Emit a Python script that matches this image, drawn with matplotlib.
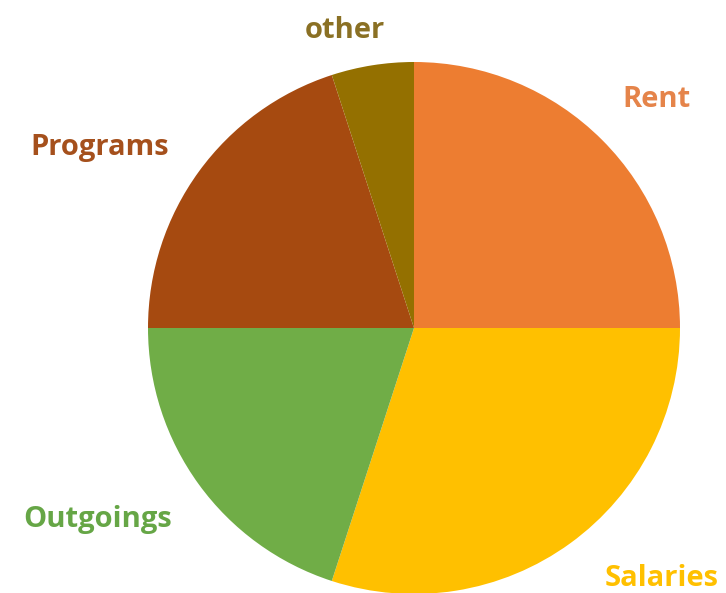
import matplotlib
matplotlib.use("Agg")
import matplotlib.pyplot as plt

# Budget shares (percent), clockwise from 12 o'clock
categories = ["Rent", "Salaries", "Outgoings", "Programs", "other"]
shares = [25, 30, 20, 20, 5]
colors = ["#ED7D31", "#FFC000", "#70AD47", "#A64A10", "#947000"]
label_colors = ["#E5844A", "#FFC000", "#66A646", "#A5501C", "#8A7024"]

# label positions in units of pie radius (x, y from centre)
label_pos = [(0.91, 0.86), (0.93, -0.94), (-1.19, -0.72), (-1.18, 0.68), (-0.26, 1.12)]

fig = plt.figure(figsize=(7.26, 5.93), dpi=100)
cx, cy, r = 414, 593 - 328, 266
ax = fig.add_axes([(cx - r) / 726, (cy - r) / 593, 2 * r / 726, 2 * r / 593])

ax.pie(shares, colors=colors, startangle=90, counterclock=False,
       radius=1, wedgeprops=dict(linewidth=0))

for name, col, (x, y) in zip(categories, label_colors, label_pos):
    ax.text(x, y, name, color=col, fontsize=21, fontweight="bold",
            family="Open Sans", ha="center", va="center", clip_on=False)

ax.set_xlim(-1, 1)
ax.set_ylim(-1, 1)
ax.set_aspect("equal")
ax.axis("off")

fig.savefig("out.png", dpi=100)
